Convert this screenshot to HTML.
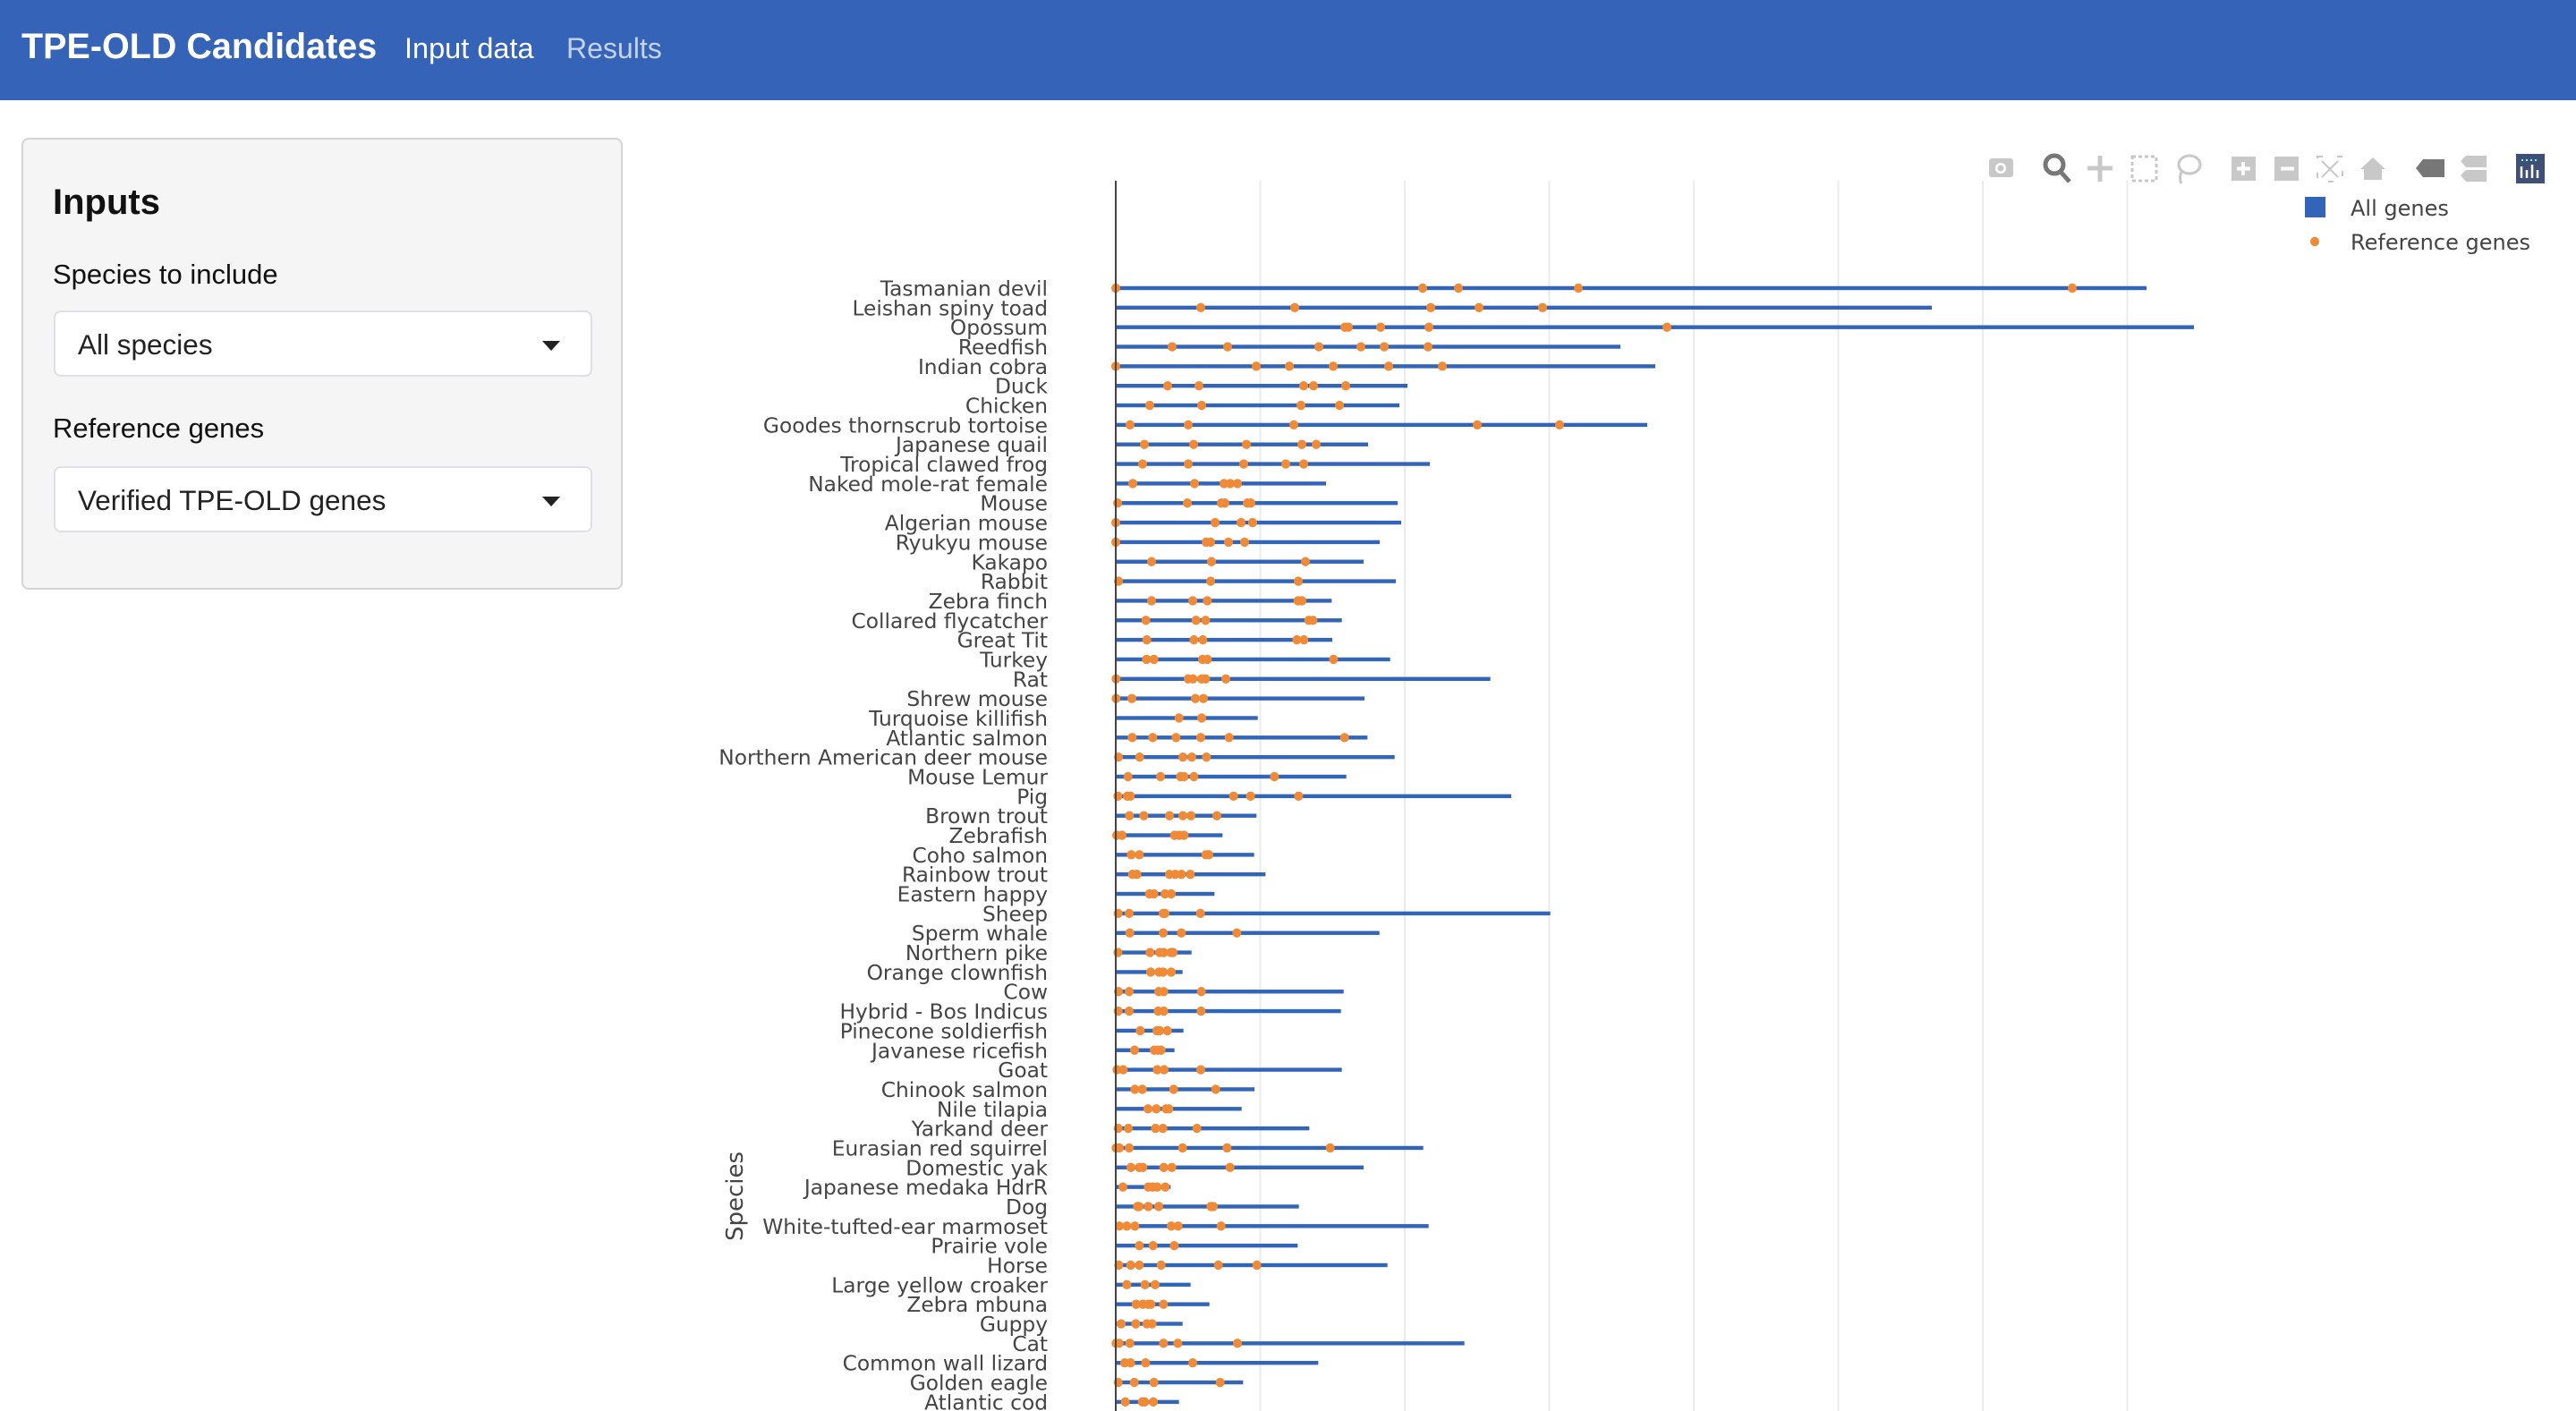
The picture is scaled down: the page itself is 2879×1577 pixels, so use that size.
<!DOCTYPE html>
<html><head><meta charset="utf-8">
<style>
html,body{margin:0;padding:0;width:2879px;height:1577px;overflow:hidden;background:#fff;font-family:"Liberation Sans",sans-serif;}
#hdr{position:absolute;left:0;top:0;width:2879px;height:112px;background:#3463b8;}
#hdr .t{position:absolute;left:24px;top:30px;font-size:39.5px;font-weight:bold;color:#fff;}
#hdr .n1{position:absolute;left:452px;top:36px;font-size:32.5px;color:#fff;}
#hdr .n2{position:absolute;left:633px;top:36px;font-size:32px;color:#c5d2ec;}
#panel{position:absolute;left:24px;top:154px;width:672px;height:505px;background:#f5f5f5;border:2px solid #d4d4d4;border-radius:8px;box-sizing:border-box;}
.lbl{position:absolute;left:33px;color:#111;font-size:31px;}
.sel{position:absolute;left:34px;width:602px;height:74px;background:#fff;border:2px solid #e0e0e4;border-radius:8px;box-sizing:border-box;}
.sel span{position:absolute;left:25px;top:18px;font-size:31.5px;color:#222;}
.sel i{position:absolute;right:34px;top:32px;width:0;height:0;border-left:10px solid transparent;border-right:10px solid transparent;border-top:11px solid #222;}
svg{position:absolute;left:0;top:0;}
</style></head><body>
<div id="hdr"><div class="t">TPE-OLD Candidates</div><div class="n1">Input data</div><div class="n2">Results</div></div>
<div id="panel">
<div class="lbl" style="top:48px;font-size:40px;font-weight:bold;">Inputs</div>
<div class="lbl" style="top:133px;">Species to include</div>
<div class="sel" style="top:191px;"><span>All species</span><i></i></div>
<div class="lbl" style="top:305px;">Reference genes</div>
<div class="sel" style="top:365px;"><span>Verified TPE-OLD genes</span><i></i></div>
</div>
<svg id="s" width="2879" height="1577" xmlns="http://www.w3.org/2000/svg"></svg>
<script>
var names=["Tasmanian devil","Leishan spiny toad","Opossum","Reedfish","Indian cobra","Duck","Chicken","Goodes thornscrub tortoise","Japanese quail","Tropical clawed frog","Naked mole-rat female","Mouse","Algerian mouse","Ryukyu mouse","Kakapo","Rabbit","Zebra finch","Collared flycatcher","Great Tit","Turkey","Rat","Shrew mouse","Turquoise killifish","Atlantic salmon","Northern American deer mouse","Mouse Lemur","Pig","Brown trout","Zebrafish","Coho salmon","Rainbow trout","Eastern happy","Sheep","Sperm whale","Northern pike","Orange clownfish","Cow","Hybrid - Bos Indicus","Pinecone soldierfish","Javanese ricefish","Goat","Chinook salmon","Nile tilapia","Yarkand deer","Eurasian red squirrel","Domestic yak","Japanese medaka HdrR","Dog","White-tufted-ear marmoset","Prairie vole","Horse","Large yellow croaker","Zebra mbuna","Guppy","Cat","Common wall lizard","Golden eagle","Atlantic cod"];
var A=[[2399,1247,1590,1630,1764,2316],[2159,1342,1447,1599,1653,1724],[2452,1503,1507,1543,1597,1863],[1811,1310,1372,1474,1521,1547,1596],[1850,1247,1404,1441,1490,1552,1612],[1573,1305,1340,1457,1468,1504],[1564,1285,1343,1454,1497],[1841,1263,1328,1446,1651,1743],[1529,1279,1334,1393,1455,1471],[1598,1277,1328,1390,1437,1457],[1482,1266,1335,1368,1375,1383],[1562,1249,1327,1365,1369,1394,1398],[1566,1247,1358,1387,1400],[1542,1247,1348,1353,1373,1391],[1524,1287,1354,1459],[1560,1250,1353,1451]];
var B=[[745,141,279,328,632,645],[779,122,290,322,668,682],[747,125,283,313,628,652],[941,124,149,312,328,751],[1277,22,264,280,309,322,390],[855,22,75,288,315],[497,233,309],[865,76,145,223,306,401,788],[956,30,101,246,276,325],[794,62,171,238,250,283,553],[1347,28,60,70,416,473,634],[493,67,115,201,246,273,360],[379,24,42,218,234,250],[485,73,100,323,333],[523,77,92,201,220,241,271],[352,134,149,186,207],[1478,29,66,180,186,305],[905,68,180,241,427],[275,28,136,168,182,206,213],[245,138,166,180,207],[785,30,66,165,182,308],[776,29,66,163,182,307],[248,103,159,168,194],[218,84,150,162,173],[779,25,46,160,183,306],[486,85,110,215,356],[443,129,157,190,199],[670,29,63,154,179,293],[1052,22,33,66,245,394,740],[852,72,100,112,182,209,404],[205,45,130,145,160,187],[635,94,99,130,165,340,348],[1070,33,58,85,207,230,374],[631,100,146,217],[932,31,71,100,173,365,494],[272,58,119,153],[335,89,112,130,139,181],[245,39,88,125,143],[1190,22,32,68,181,229,429],[700,51,71,121,279],[448,29,83,149,371],[233,53,110,118,147]];
B.forEach(function(r){A.push(r.map(function(v){return 1240+v/3;}));});
var h='';
for(var k=1;k<=7;k++){var gx=1247+k*161.5;h+='<line x1="'+gx+'" y1="202" x2="'+gx+'" y2="1577" stroke="#ebebeb" stroke-width="2"/>';}
var dots='';
A.forEach(function(r,i){var y=322+i*21.84;
h+='<rect x="1247" y="'+(y-2.2)+'" width="'+(r[0]-1247)+'" height="4.4" fill="#3264b8"/>';
for(var j=1;j<r.length;j++)dots+='<ellipse cx="'+r[j]+'" cy="'+y+'" rx="5" ry="5.2" fill="#f08a37"/>';
h+='<text x="1171" y="'+(y+8.5)+'" text-anchor="end" font-family="DejaVu Sans, sans-serif" font-size="23.3" fill="#444">'+names[i]+'</text>';});
h+=dots;
h+='<line x1="1247" y1="202" x2="1247" y2="1577" stroke="#444" stroke-width="2"/>';
h+='<text transform="translate(830,1337) rotate(-90)" text-anchor="middle" font-family="DejaVu Sans, sans-serif" font-size="26" fill="#444">Species</text>';
h+='<rect x="2576" y="220" width="23" height="23" fill="#3264b8"/><text x="2627" y="241" font-family="DejaVu Sans, sans-serif" font-size="24" fill="#444">All genes</text>';
h+='<ellipse cx="2587" cy="270" rx="5" ry="5.2" fill="#f08a37"/><text x="2627" y="279" font-family="DejaVu Sans, sans-serif" font-size="24" fill="#444">Reference genes</text>';
var g='#c8c8c8';
h+='<rect x="2223" y="177" width="27" height="21" rx="3" fill="'+g+'"/><circle cx="2236" cy="188" r="6" fill="#fff"/><circle cx="2236" cy="188" r="3.5" fill="'+g+'"/>';
h+='<circle cx="2296" cy="184" r="10" fill="none" stroke="#777" stroke-width="5"/><line x1="2303" y1="192" x2="2313" y2="203" stroke="#777" stroke-width="5"/>';
h+='<path d="M2347 174v29M2333 188h28" stroke="'+g+'" stroke-width="5"/>';
h+='<rect x="2383" y="175" width="27" height="27" fill="none" stroke="'+g+'" stroke-width="3" stroke-dasharray="4 3"/>';
h+='<ellipse cx="2447" cy="184" rx="12" ry="10" fill="none" stroke="'+g+'" stroke-width="3"/><path d="M2438 192q-3 8 0 13" stroke="'+g+'" stroke-width="3" fill="none"/>';
h+='<rect x="2494" y="175" width="27" height="27" fill="'+g+'"/><path d="M2507 181v15M2500 188.5h15" stroke="#fff" stroke-width="4"/>';
h+='<rect x="2542" y="175" width="27" height="27" fill="'+g+'"/><path d="M2549 188.5h15" stroke="#fff" stroke-width="4"/>';
h+='<rect x="2590" y="175" width="28" height="28" fill="none" stroke="'+g+'" stroke-width="2" stroke-dasharray="6 16"/><path d="M2595 180l18 18M2613 180l-18 18" stroke="'+g+'" stroke-width="2"/>';
h+='<path d="M2652 176l-14 13h4v12h20v-12h4z" fill="'+g+'"/>';
h+='<path d="M2700 188l8-10h24v20h-24z" fill="#777"/>';
h+='<path d="M2750 180l6-6h23v13h-23z" fill="'+g+'"/><path d="M2750 196l6-6h23v13h-23z" fill="'+g+'"/>';
h+='<rect x="2812" y="172" width="32" height="33" fill="#3f4f75"/><path d="M2818 186v13M2824 190v9M2830 184v15M2836 190v9" stroke="#fff" stroke-width="2.5"/><path d="M2818 179h20" stroke="#7fd" stroke-width="2" stroke-dasharray="2 3"/>';
document.getElementById('s').innerHTML=h;
</script>
</body></html>
